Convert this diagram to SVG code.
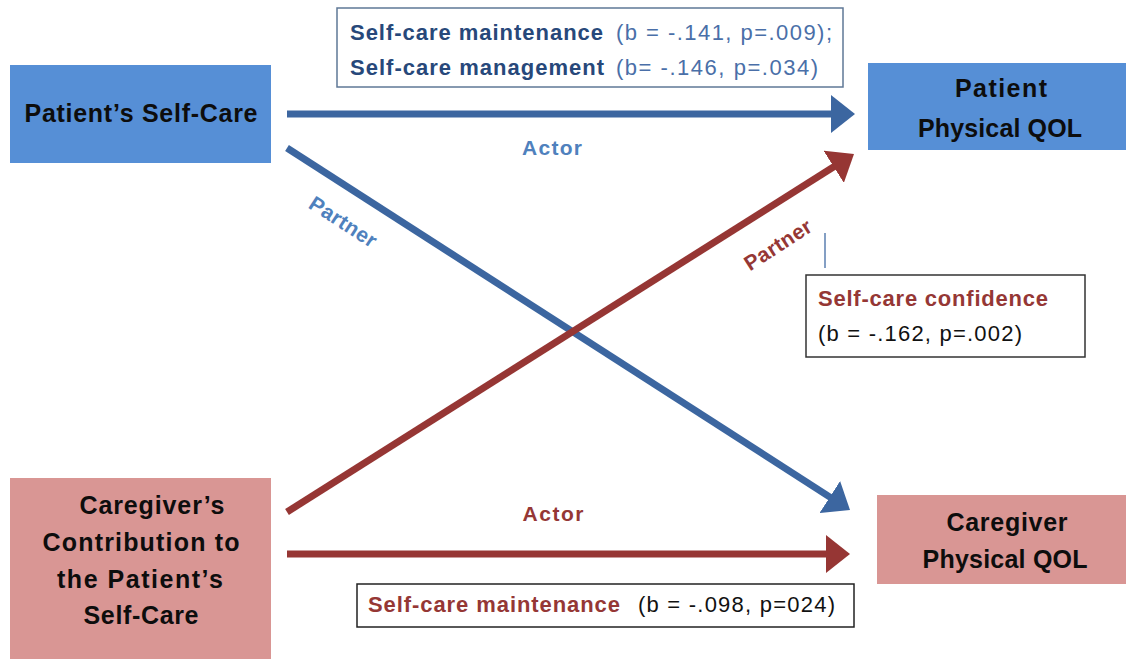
<svg xmlns="http://www.w3.org/2000/svg" width="1126" height="659" viewBox="0 0 1126 659">
<style>
text{font-family:"Liberation Sans",Arial,sans-serif}
.node{font-weight:bold;font-size:25px;fill:#0d0d0d;text-anchor:middle}
.lbl{font-size:22px}
.b{font-weight:bold}
.dblue{fill:#27487a}
.lblue{fill:#4a6fa8}
.red{fill:#953735}
.blue{fill:#4f81bd}
.pbox{fill:#568fd6}
.cbox{fill:#d99694}
.ab{stroke:#3c66a0;stroke-width:7;fill:none}
.ar{stroke:#963634;stroke-width:7;fill:none}
</style>
<defs>
<marker id="mb" viewBox="0 0 24 38" markerWidth="24" markerHeight="38" markerUnits="userSpaceOnUse" refX="2" refY="19" orient="auto">
<path d="M0,0 L24,19 L0,38 z" fill="#3c66a0"/>
</marker>
<marker id="mr" viewBox="0 0 24 38" markerWidth="24" markerHeight="38" markerUnits="userSpaceOnUse" refX="2" refY="19" orient="auto">
<path d="M0,0 L24,19 L0,38 z" fill="#963634"/>
</marker>
</defs>
<rect width="1126" height="659" fill="#ffffff"/>

<g id="connectors">
<line class="ab" x1="287" y1="114" x2="833" y2="114" marker-end="url(#mb)"/>
<line class="ab" x1="287" y1="148" x2="831.5" y2="498.1" marker-end="url(#mb)"/>
<line class="ar" x1="287" y1="512" x2="835.4" y2="165.7" marker-end="url(#mr)"/>
<line class="ar" x1="287" y1="554" x2="828" y2="554" marker-end="url(#mr)"/>
<line x1="825" y1="233" x2="825" y2="268" stroke="#5b7fb0" stroke-width="1.5"/>
<text class="b blue" x="552" y="155" font-size="21" text-anchor="middle" textLength="60">Actor</text>
<text class="b red" x="553" y="521" font-size="21" text-anchor="middle" textLength="61">Actor</text>
<text class="b blue" font-size="21" text-anchor="middle" transform="translate(343,222) rotate(33)" x="0" y="7" textLength="76">Partner</text>
<text class="b red" font-size="21" text-anchor="middle" transform="translate(778,245) rotate(-33)" x="0" y="7" textLength="76">Partner</text>
</g>

<g id="node-patient-selfcare">
<rect class="pbox" x="10" y="65" width="261" height="98"/>
<text class="node" x="141" y="122" textLength="233">Patient’s Self-Care</text>
</g>

<g id="node-patient-qol">
<rect class="pbox" x="868" y="63" width="258" height="87"/>
<text class="node" x="1001" y="97" textLength="92">Patient</text>
<text class="node" x="1000" y="137" textLength="164">Physical QOL</text>
</g>

<g id="node-caregiver-contribution">
<rect class="cbox" x="10" y="478" width="261" height="181"/>
<text class="node" x="152" y="514" textLength="145">Caregiver’s</text>
<text class="node" x="141" y="551" textLength="197">Contribution to</text>
<text class="node" x="140" y="588" textLength="166">the Patient’s</text>
<text class="node" x="141" y="624" textLength="115">Self-Care</text>
</g>

<g id="node-caregiver-qol">
<rect class="cbox" x="877" y="495" width="249" height="89"/>
<text class="node" x="1007" y="531" textLength="121">Caregiver</text>
<text class="node" x="1005" y="568" textLength="165">Physical QOL</text>
</g>

<g id="label-actor-patient">
<rect x="337" y="8" width="506" height="79" fill="#ffffff" stroke="#5f7896" stroke-width="1.5"/>
<text class="lbl b dblue" x="350" y="40" textLength="253">Self-care maintenance</text>
<text class="lbl lblue" x="616" y="40" textLength="216">(b = -.141, p=.009);</text>
<text class="lbl b dblue" x="350" y="75" textLength="254">Self-care management</text>
<text class="lbl lblue" x="616" y="75" textLength="202">(b= -.146, p=.034)</text>
</g>

<g id="label-partner-caregiver">
<rect x="806" y="275" width="279" height="82" fill="#ffffff" stroke="#333333" stroke-width="1.5"/>
<text class="lbl b red" x="818" y="306" textLength="230">Self-care confidence</text>
<text class="lbl" x="818" y="341" fill="#111111" textLength="204">(b = -.162, p=.002)</text>
</g>

<g id="label-actor-caregiver">
<rect x="357" y="584" width="497" height="43" fill="#ffffff" stroke="#222222" stroke-width="1.5"/>
<text class="lbl b red" x="368" y="612" textLength="252">Self-care maintenance</text>
<text class="lbl" x="638" y="612" fill="#111111" textLength="197">(b = -.098, p=024)</text>
</g>
</svg>
